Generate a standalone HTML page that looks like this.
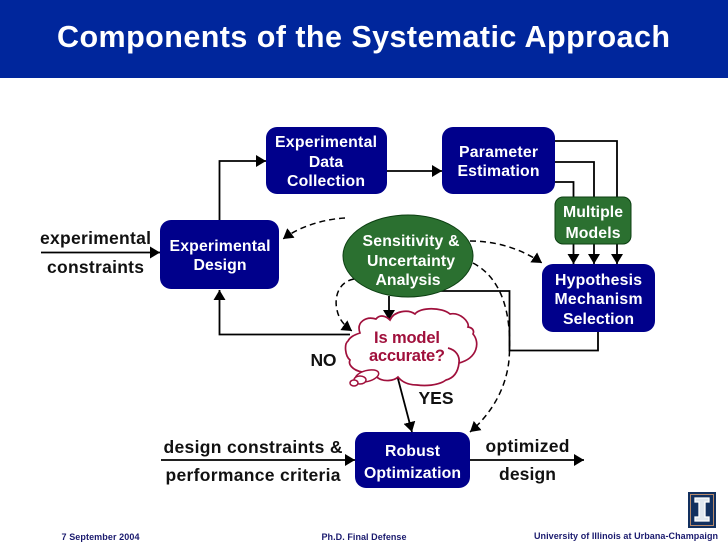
<!DOCTYPE html>
<html>
<head>
<meta charset="utf-8">
<style>
html,body{margin:0;padding:0;background:#fff;width:728px;height:546px;overflow:hidden}
svg{display:block}
text{font-family:"Liberation Sans",sans-serif;font-weight:bold;text-anchor:middle}
.n{fill:#fff;font-size:15.800px}
.b{fill:#111;font-size:17.500px}
.f{fill:#1a1a6e;font-size:9.500px}
.c{fill:#a0103c;font-size:16.500px}
</style>
</head>
<body>
<svg width="728" height="546" viewBox="0 0 728 546" xmlns="http://www.w3.org/2000/svg">
<defs>
<marker id="a" markerUnits="userSpaceOnUse" markerWidth="12" markerHeight="12" refX="10" refY="6" orient="auto"><path d="M0 0L10 6L0 12Z" fill="#000"/></marker>
</defs>
<rect x="0" y="0" width="728" height="78" fill="#00269c"/>
<text x="363.500" y="47" style="font-size:30.500px;fill:#fff" textLength="613" lengthAdjust="spacing">Components of the Systematic Approach</text>

<g fill="none" stroke="#000" stroke-width="1.800">
<path d="M219.500 220V161H266" marker-end="url(#a)"/>
<path d="M41 252.500H160" marker-end="url(#a)"/>
<path d="M350 334.500H219.500V290" marker-end="url(#a)"/>
<path d="M387 171H442" marker-end="url(#a)"/>
<path d="M555 141H617V197M555 162H594V197M555 182H573.500V197"/>
<path d="M573.500 244V264" marker-end="url(#a)"/>
<path d="M594 244V264" marker-end="url(#a)"/>
<path d="M617 244V264" marker-end="url(#a)"/>
<path d="M598 332V350.500H509.500V291H440"/>
<path d="M389 296V320" marker-end="url(#a)"/>
<path d="M397 375L412 432" marker-end="url(#a)"/>
<path d="M161 460H355" marker-end="url(#a)"/>
<path d="M470 460H584" marker-end="url(#a)"/>
</g>
<g fill="none" stroke="#000" stroke-width="1.500" stroke-dasharray="6 4">
<path d="M345 218C325 219 300 226 283 239" marker-end="url(#a)"/>
<path d="M470 241C495 241 520 248 542 263" marker-end="url(#a)"/>
<path d="M473 263C505 280 512 320 509 360C506 390 490 415 470 432" marker-end="url(#a)"/>
<path d="M354 279C338 282 334 298 337 310C339 320 345 326 352 331" marker-end="url(#a)"/>
</g>

<rect x="266" y="127" width="121" height="67" rx="11" fill="#00008b"/>
<rect x="442" y="127" width="113" height="67" rx="11" fill="#00008b"/>
<rect x="160" y="220" width="119" height="69" rx="11" fill="#00008b"/>
<rect x="542" y="264" width="113" height="68" rx="11" fill="#00008b"/>
<rect x="355" y="432" width="115" height="56" rx="11" fill="#00008b"/>
<rect x="555" y="197" width="76" height="47" rx="8" fill="#2b7030" stroke="#0c3f12" stroke-width="1"/>
<ellipse cx="408" cy="256" rx="65" ry="41" fill="#2b7030" stroke="#0c3f12" stroke-width="1"/>

<path d="M360 333C356 322 366 316 376 319C380 314 386 316 390 320C394 311 408 309 415 314C420 307 442 307 450 314C460 312 470 322 468 327C474 328 474 332 473 334C480 342 478 358 459 363C458 372 454 378 446 380C438 386 424 386 417 385C408 385 402 382 398 377C394 381 384 382 378 378C372 372 368 371 362 372C352 370 348 364 350 360C345 356 344 344 348 341C350 337 354 335 360 333Z" fill="#fff" stroke="#a0103c" stroke-width="1.700"/>
<path d="M448 348C456 350 460 356 459 363" fill="none" stroke="#a0103c" stroke-width="1.700"/>
<ellipse cx="367" cy="376" rx="12" ry="5.500" fill="#fff" stroke="#a0103c" stroke-width="1.500" transform="rotate(-15 367 376)"/>
<ellipse cx="360" cy="380" rx="6" ry="4" fill="#fff" stroke="#a0103c" stroke-width="1.500"/>
<ellipse cx="354" cy="383" rx="4" ry="3" fill="#fff" stroke="#a0103c" stroke-width="1.500"/>

<text class="n" x="326" y="147" textLength="102">Experimental</text>
<text class="n" x="326" y="167">Data</text>
<text class="n" x="326" y="186" textLength="78">Collection</text>
<text class="n" x="498.500" y="157" textLength="79">Parameter</text>
<text class="n" x="498.500" y="176" textLength="82">Estimation</text>
<text class="n" x="220" y="251" textLength="101">Experimental</text>
<text class="n" x="220" y="270" textLength="53">Design</text>
<text class="n" x="593" y="217" textLength="60">Multiple</text>
<text class="n" x="593" y="238" textLength="55">Models</text>
<text class="n" x="598.500" y="285" textLength="87">Hypothesis</text>
<text class="n" x="598.500" y="304" textLength="88">Mechanism</text>
<text class="n" x="598.500" y="324" textLength="71">Selection</text>
<text class="n" x="411" y="246" textLength="97">Sensitivity &amp;</text>
<text class="n" x="411" y="266" textLength="88">Uncertainty</text>
<text class="n" x="408" y="285" textLength="65">Analysis</text>
<text class="n" x="412.500" y="456" textLength="55">Robust</text>
<text class="n" x="412.500" y="478" textLength="97">Optimization</text>
<text class="c" x="407" y="343" textLength="66">Is model</text>
<text class="c" x="407" y="361" textLength="76">accurate?</text>

<text class="b" x="95.500" y="244" textLength="111">experimental</text>
<text class="b" x="95.500" y="273" textLength="97">constraints</text>
<text class="b" x="253" y="453" textLength="179">design constraints &amp;</text>
<text class="b" x="253" y="481" textLength="175">performance criteria</text>
<text class="b" x="527.500" y="452" textLength="84">optimized</text>
<text class="b" x="527.500" y="480" textLength="57">design</text>
<text class="b" x="323.500" y="366" textLength="26">NO</text>
<text class="b" x="436" y="404" textLength="35">YES</text>

<text class="f" x="100.500" y="540" textLength="78" style="font-size:9px">7 September 2004</text>
<text class="f" x="364" y="540" textLength="85" style="font-size:9px">Ph.D. Final Defense</text>
<text class="f" x="626" y="539" textLength="184" style="font-size:9px">University of Illinois at Urbana-Champaign</text>

<rect x="688" y="492" width="28" height="36" fill="#12305f"/>
<rect x="690.500" y="494.500" width="23" height="31" fill="none" stroke="#b88a6a" stroke-width="1"/>
<path d="M695 498H709V502H705V517H709V521H695V517H699V502H695Z" fill="#dfe6ee" stroke="#fff" stroke-width="1.300"/>
</svg>
</body>
</html>
